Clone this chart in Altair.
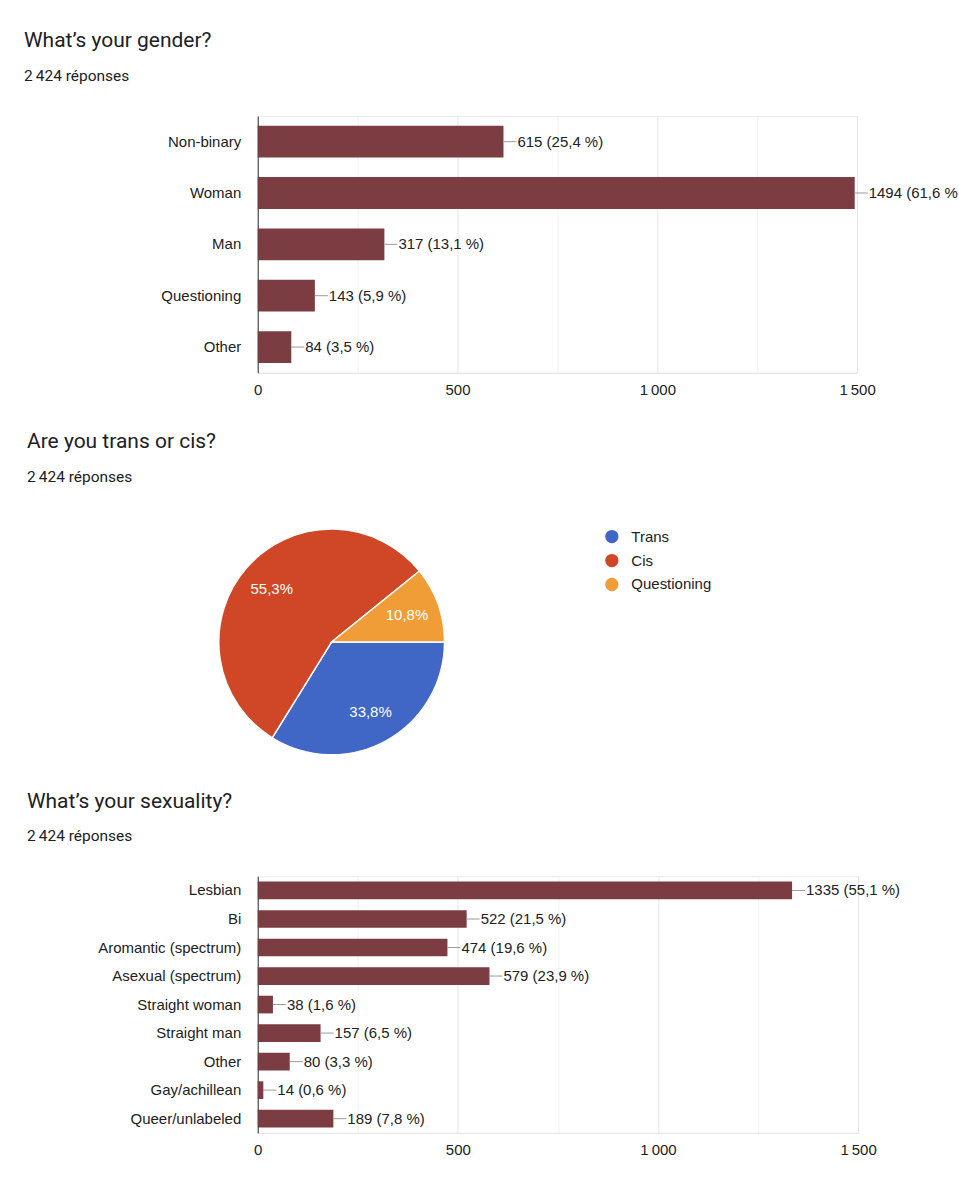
import math
import pandas as pd
import altair as alt

# ---------------- data ----------------
gender_title = "What\u2019s your gender?"
trans_title = "Are you trans or cis?"
sex_title = "What\u2019s your sexuality?"
responses = "2\u2009424 réponses"

gender_cats = ["Non-binary", "Woman", "Man", "Questioning", "Other"]
gender_counts = [615, 1494, 317, 143, 84]
gender_pcts = ["25,4", "61,6", "13,1", "5,9", "3,5"]

trans_cats = ["Trans", "Cis", "Questioning"]
trans_pcts = [33.8, 55.3, 10.8]
trans_labels = ["33,8%", "55,3%", "10,8%"]
trans_colors = ["#4066c6", "#cf4727", "#f09d38"]

sex_cats = ["Lesbian", "Bi", "Aromantic (spectrum)", "Asexual (spectrum)",
            "Straight woman", "Straight man", "Other", "Gay/achillean",
            "Queer/unlabeled"]
sex_counts = [1335, 522, 474, 579, 38, 157, 80, 14, 189]
sex_pcts = ["55,1", "21,5", "19,6", "23,9", "1,6", "6,5", "3,3", "0,6", "7,8"]

axis_ticks = [0, 250, 500, 750, 1000, 1250, 1500]

# ---------------- style ----------------
BAR = "#7c3d42"
LFONT = "Liberation Sans"
TFONT = "Roboto"
TXT = "#222222"


def title_marks(title, sub, tx, ty, sy):
    t = alt.Chart(pd.DataFrame({"t": [title]})).mark_text(
        align="left", baseline="alphabetic", font=TFONT, fontSize=21, color="#202124"
    ).encode(x=alt.value(tx), y=alt.value(ty), text="t:N")
    s = alt.Chart(pd.DataFrame({"t": [sub]})).mark_text(
        align="left", baseline="alphabetic", font=TFONT, fontSize=15.5, color="#202124"
    ).encode(x=alt.value(tx), y=alt.value(sy), text="t:N")
    return t, s


def bar_panel(cats, counts, pcts, title, width, height, tx, ty, sy):
    df = pd.DataFrame({"cat": cats, "count": counts, "pct": pcts})
    df["label"] = [f"{c} ({p} %)" for c, p in zip(counts, pcts)]
    base = alt.Chart(df)
    y = alt.Y(
        "cat:N", sort=cats, title=None,
        scale=alt.Scale(paddingInner=0.38, paddingOuter=0.19),
        axis=alt.Axis(domainColor="#333333", ticks=False, labelPadding=17,
                      labelFontSize=15, labelFont=LFONT, labelColor=TXT),
    )
    x = alt.X(
        "count:Q", title=None,
        scale=alt.Scale(domain=[0, 1500], nice=False),
        axis=alt.Axis(
            values=axis_ticks,
            labelExpr="datum.value % 500 === 0 ? replace(format(datum.value, ','), ',', '\u2009') : ''",
            ticks=False, domainColor="#e4e4e4", labelPadding=10, labelFlush=False,
            labelFontSize=15, labelFont=LFONT, labelColor=TXT,
            gridColor={"condition": {"test": "datum.value % 500 === 0", "value": "#e4e4e4"},
                       "value": "#f1f1f1"},
        ),
    )
    bars = base.mark_bar(color=BAR).encode(x=x, y=y)
    leaders = base.mark_rule(color="#9a9a9a", strokeWidth=1, x2Offset=13).encode(
        x="count:Q", x2="count:Q", y=y)
    # labels running past the page edge (959 px) are cut off there, as in the source
    labels = base.mark_text(
        align="left", baseline="middle", dx=14, fontSize=15, font=LFONT, color=TXT,
        ellipsis="\u200b",
        limit=alt.ExprRef(expr=f"max(1, 690 - datum.count * {width / 1500:.4f})"),
    ).encode(x="count:Q", y=y, text="label:N")
    t, s = title_marks(title, responses, tx, ty, sy)
    return alt.layer(bars, leaders, labels, t, s).properties(
        width=width, height=height, view=alt.ViewBackground(stroke="#ececec"))


p1 = bar_panel(gender_cats, gender_counts, gender_pcts, gender_title, 600, 257, -234, -69, -35)

# ---------------- pie ----------------
pdf = pd.DataFrame({"cat": trans_cats, "pct": trans_pcts, "label": trans_labels,
                    "ord": list(range(len(trans_cats)))})
theta = alt.Theta("pct:Q", stack=True,
                  scale=alt.Scale(range=[math.pi / 2, math.pi / 2 + 2 * math.pi]))
arc = alt.Chart(pdf).mark_arc(outerRadius=113, stroke="white", strokeWidth=1.5).encode(
    theta=theta,
    order=alt.Order("ord:Q"),
    color=alt.Color("cat:N", scale=alt.Scale(domain=trans_cats, range=trans_colors),
                    legend=alt.Legend(orient="none", legendX=347, legendY=413.5, title=None,
                                      symbolType="circle", symbolSize=177,
                                      symbolStrokeWidth=0, labelFontSize=15,
                                      labelFont=LFONT, labelColor=TXT, labelOffset=12,
                                      rowPadding=8, padding=0)),
    x=alt.value(74), y=alt.value(250),
)
pie_txt = alt.Chart(pdf).mark_text(radius=80, color="white", fontSize=15, font=LFONT).encode(
    theta=theta, order=alt.Order("ord:Q"), text="label:N",
    x=alt.value(74), y=alt.value(250),
)
t2, s2 = title_marks(trans_title, responses, -231, 56, 90)
p2 = alt.layer(arc, pie_txt, t2, s2).properties(
    width=600, height=464.5, view=alt.ViewBackground(stroke="transparent"))

p3 = bar_panel(sex_cats, sex_counts, sex_pcts, sex_title, 601, 257, -231, -68, -35)

chart = alt.vconcat(p1, p2, p3, spacing=19.5, bounds="flush").properties(
    padding={"left": 23, "top": 28.5, "right": 0, "bottom": 10},
    background="white",
)

chart.save("out.html", embed_options={"renderer": "svg", "actions": False})
